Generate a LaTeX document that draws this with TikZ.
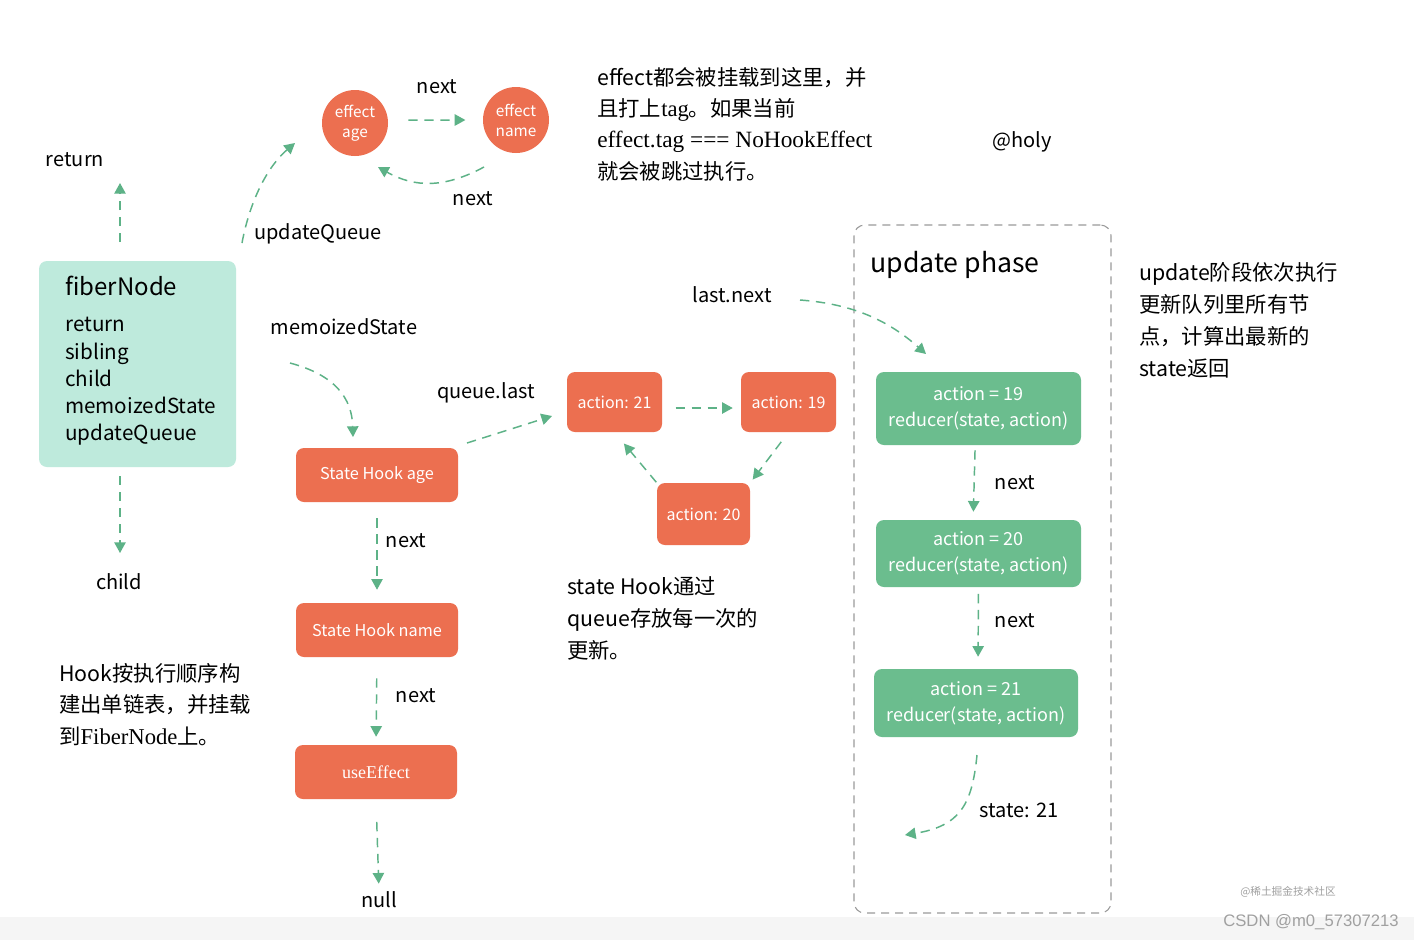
\documentclass[tikz,border=0pt]{standalone}
\usepackage{fontspec}
\setmainfont{Noto Sans CJK SC}
\newfontfamily\serif{Liberation Serif}
\newfontfamily\arialf{Liberation Sans}
\usetikzlibrary{arrows.meta}
\definecolor{arrgreen}{HTML}{5DB287}
\definecolor{hookor}{HTML}{EC6F50}
\definecolor{mint}{HTML}{BEEADC}
\definecolor{boxgreen}{HTML}{6BBD8E}
\definecolor{framegray}{HTML}{9A9A9A}
\definecolor{wmgray}{HTML}{A0A0A0}
\tikzset{
  arr/.style={draw=arrgreen, line width=1.1pt, dash pattern=on 7pt off 5pt,
    -{Triangle[length=8pt,width=8.5pt,fill=arrgreen]}},
  lbl/.style={inner sep=0pt, font=\fontsize{15}{18}\selectfont},
  note/.style={inner sep=0pt, anchor=west, align=left},
  hookbox/.style={fill=hookor, rounded corners=6pt, text=white,
    minimum width=121.5pt, minimum height=40.5pt, font=\fontsize{12.2}{14}\selectfont},
  actbox/.style={fill=hookor, rounded corners=6pt, text=white,
    minimum width=71.25pt, minimum height=45pt, font=\fontsize{12}{14}\selectfont},
  effcircle/.style={circle, fill=hookor, text=white, minimum size=49.5pt, inner sep=0pt,
    align=center, font=\fontsize{11.5}{15}\selectfont},
  redbox/.style={fill=boxgreen, rounded corners=6pt, text=white, align=center,
    minimum width=153.75pt, font=\fontsize{13.5}{19.5}\selectfont},
}
\begin{document}
\begin{tikzpicture}[x=0.75pt,y=-0.75pt]
\useasboundingbox (0,0) rectangle (1414,940);
\fill[white] (0,0) rectangle (1414,940);
\fill[black!4] (0,917) rectangle (1414,940);

% fiber node
\node[fill=mint, rounded corners=6pt, minimum width=147.75pt, minimum height=154.5pt] (fiber) at (137.5,364) {};
\node[inner sep=0pt, anchor=west, font=\fontsize{18}{22}\selectfont] (fibtitle) at (65,286) {fiberNode};
\node[note, font=\fontsize{15.5}{20.4}\selectfont] (fiblist) at (65,381.5) {return\\sibling\\child\\memoizedState\\updateQueue};

\node[lbl] (ret) at (75,160) {return};
\node[lbl] (child) at (119,582) {child};
\coordinate (retS) at (120,242);
\coordinate (retE) at (120,183);
\draw[arr] (retS) -- (retE);
\coordinate (chS) at (120,476);
\coordinate (chE) at (120,553);
\draw[arr] (chS) -- (chE);

% effect circles
\node[effcircle] (effAge) at (355,123) {effect\\age};
\node[effcircle] (effName) at (516,120) {effect\\name};
\node[lbl] (uq) at (318,234) {updateQueue};
\coordinate (uqS) at (242,243);
\coordinate (uqE) at (295,143);
\draw[arr] (uqS) .. controls (250,200) and (268,166) .. (uqE);
\node[lbl] (next1) at (437,87) {next};
\node[lbl] (next2) at (473,199) {next};
\draw[arr, shorten <=15pt, shorten >=13pt] ([yshift=2.2pt]effAge.east) -- (effName.west);
\coordinate (enS) at (484,167);
\coordinate (enE) at (378,167);
\draw[arr] (enS) .. controls (445,188) and (415,188) .. (enE);

% note top
\node[note, font=\fontsize{16}{23.5}\selectfont] (note1) at (597,124)
  {effect都会被挂载到这里，并\\且打上{\serif\fontsize{17}{20}\selectfont tag}。如果当前\\{\serif\fontsize{17.5}{20}\selectfont effect.tag === NoHookEffect}\\就会被跳过执行。};
\node[lbl] (holy) at (1022,142) {@holy};

% hooks
\node[lbl] (memo) at (344,327) {memoizedState};
\node[hookbox] (hookAge) at (377,475) {State Hook age};
\node[hookbox] (hookName) at (377,630) {State Hook name};
\node[hookbox, font=\serif\fontsize{13.5}{14}\selectfont] (useEff) at (376,772) {useEffect};
\node[lbl] (null) at (379,900) {null};
\coordinate (memS) at (290,363);
\coordinate (memE) at (353,437);
\draw[arr] (memS) .. controls (335,375) and (352,398) .. (memE);
\node[lbl] (next3) at (406,541) {next};
\node[lbl] (next4) at (416,696) {next};
\draw[arr, shorten <=12pt, shorten >=9.75pt] (hookAge.south) -- (hookName.north);
\draw[arr, shorten <=15.75pt, shorten >=6pt] (hookName.south) -- (useEff.north);
\draw[arr, shorten <=17pt, shorten >=6pt] (useEff.south) -- (null.north);

% queue
\node[lbl] (ql) at (486,393) {queue.last};
\node[actbox] (a21) at (614.5,402) {action: 21};
\node[actbox] (a19) at (788.5,402) {action: 19};
\node[actbox, minimum width=69.75pt, minimum height=46.5pt] (a20) at (703.5,514) {action: 20};
\coordinate (qlS) at (467,443);
\coordinate (qlE) at (552,416);
\draw[arr] (qlS) -- (qlE);
\draw[arr, shorten <=10pt, shorten >=6pt] ([yshift=-4.5pt]a21.east) -- ([yshift=-4.5pt]a19.west);
\draw[arr, shorten <=9pt, shorten >=3pt] (a19.south) -- (a20.north east);
\draw[arr, shorten <=0.5pt, shorten >=11pt] (a20.north west) -- (a21.south);
\node[note, font=\fontsize{16}{24}\selectfont] (statenote) at (567,618) {state Hook通过\\queue存放每一次的\\更新。};
\node[note, font=\fontsize{16}{23.6}\selectfont] (hooknote) at (59,704.5) {Hook按执行顺序构\\建出单链表，并挂载\\到{\serif\fontsize{17}{20}\selectfont FiberNode}上。};

% update phase
\node[draw=framegray, line width=0.8pt, dash pattern=on 6pt off 4.5pt, rounded corners=8pt,
  minimum width=192.75pt, minimum height=516pt] (frame) at (982.5,569) {};
\node[inner sep=0pt, font=\fontsize{20}{24}\selectfont] (uptitle) at (955,265) {update phase};
\node[lbl] (lastnext) at (732,295) {last.next};
\coordinate (lnS) at (800,300);
\coordinate (lnE) at (926,354);
\draw[arr] (lnS) .. controls (855,304) and (890,322) .. (lnE);
\node[redbox, minimum height=54.75pt] (g19) at (978.5,408.5) {action = 19\\reducer(state, action)};
\node[redbox, minimum height=50.25pt] (g20) at (978.5,553.5) {action = 20\\reducer(state, action)};
\node[redbox, minimum width=153pt, minimum height=51pt] (g21) at (976,703) {action = 21\\reducer(state, action)};
\node[lbl] (next5) at (1015,483) {next};
\node[lbl] (next6) at (1015,621) {next};
\draw[arr, shorten <=3.75pt, shorten >=6pt] ([xshift=-2.5pt]g19.south) -- ([xshift=-4pt]g20.north);
\draw[arr, shorten <=5pt, shorten >=9pt] (g20.south) -- ([xshift=1.5pt]g21.north);
\node[lbl] (st21) at (1019,810) {state: 21};
\coordinate (stS) at (977,755);
\coordinate (stE) at (905,835);
\draw[arr] (stS) .. controls (972,805) and (960,826) .. (stE);
\node[note, font=\fontsize{16}{24}\selectfont] (updnote) at (1139,320) {update阶段依次执行\\更新队列里所有节\\点，计算出最新的\\state返回};

% watermarks
\node[inner sep=0pt, text=wmgray, font=\fontsize{8}{9}\selectfont] (wm1) at (1288,892) {@稀土掘金技术社区};
\node[inner sep=0pt, text=wmgray, font=\arialf\fontsize{12.5}{14}\selectfont] (wm2) at (1311,922) {CSDN @m0\_57307213};
\end{tikzpicture}
\end{document}
